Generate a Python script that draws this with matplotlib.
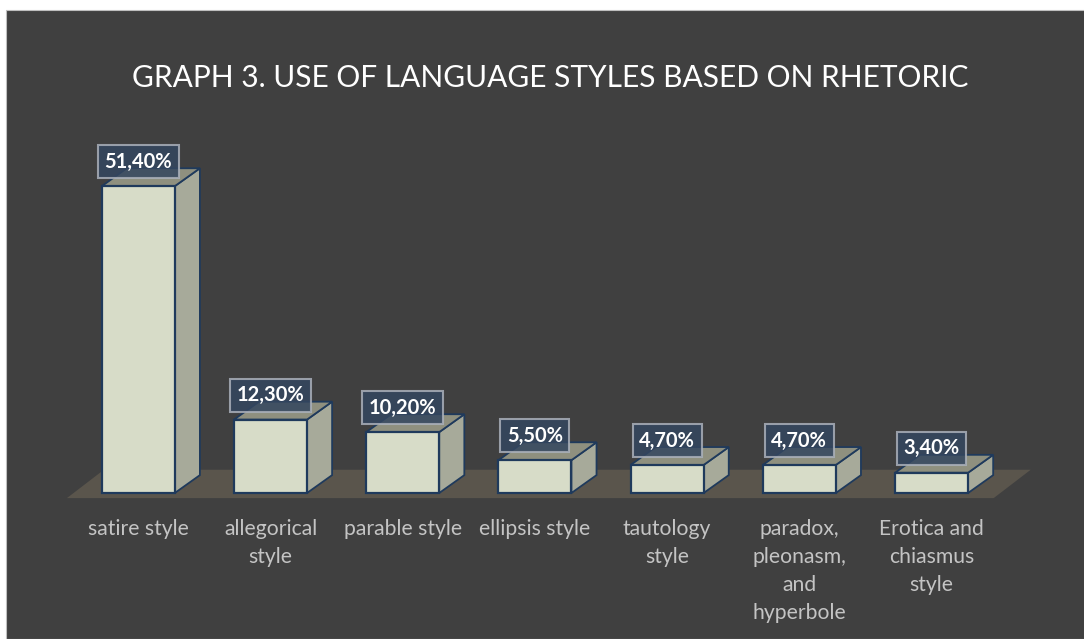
import numpy as np
import matplotlib
matplotlib.use("Agg")
import matplotlib.pyplot as plt
from matplotlib.patches import Polygon, Rectangle

categories = ["satire style", "allegorical\nstyle", "parable style", "ellipsis style",
              "tautology\nstyle", "paradox,\npleonasm,\nand\nhyperbole", "Erotica and\nchiasmus\nstyle"]
values = [51.4, 12.3, 10.2, 5.5, 4.7, 4.7, 3.4]
labels = ["51,40%", "12,30%", "10,20%", "5,50%", "4,70%", "4,70%", "3,40%"]
title = "GRAPH 3. USE OF LANGUAGE STYLES BASED ON RHETORIC"

bg = "#404040"
front = "#d7dcc8"
side = "#a7aa9a"
top = "#8f907f"
edge = "#1f3a5c"
floor_c = "#5a554c"

plt.rcParams['font.family'] = ['Lato', 'DejaVu Sans']

fig = plt.figure(figsize=(10.84, 6.39), dpi=100)
fig.patch.set_facecolor("white")
fig.patches.append(Rectangle((6 / 1084, 0), 1, 1 - 10 / 639, transform=fig.transFigure,
                             facecolor=bg, edgecolor="#bfbfbf", lw=0.8, zorder=-10))

ax = fig.add_axes([0, 0, 1, 1])
ax.set_facecolor("none")
ax.set_xlim(-1.046, 7.153)
ax.set_ylim(-24.45, 82.58)
ax.axis("off")

x = np.arange(len(values))
w = 0.552
dx = 0.19   # depth offset in x units
dy = 3.0    # depth offset in value units

# floor
fl = Polygon([(-0.54, -0.85), (6.47, -0.85), (6.75, 3.9), (-0.26, 3.9)],
             closed=True, facecolor=floor_c, edgecolor="none", zorder=1)
ax.add_patch(fl)

for i, v in enumerate(values):
    l, r = x[i] - w / 2, x[i] + w / 2
    ax.add_patch(Polygon([(r, 0), (r + dx, dy), (r + dx, v + dy), (r, v)],
                         facecolor=side, edgecolor=edge, lw=1.3, zorder=2))
    ax.add_patch(Polygon([(l, v), (r, v), (r + dx, v + dy), (l + dx, v + dy)],
                         facecolor=top, edgecolor=edge, lw=1.3, zorder=2))
ax.bar(x, values, width=w, color=front, edgecolor=edge, linewidth=1.6, zorder=3)

for i, v in enumerate(values):
    ax.text(x[i], v + 4.1, labels[i], ha="center", va="center", color="white",
            fontsize=14.5, fontweight="bold", zorder=5,
            bbox=dict(boxstyle="square,pad=0.32", facecolor="#34465f", alpha=0.85,
                      edgecolor="#aab0ba", linewidth=1.5))

for i, c in enumerate(categories):
    ax.text(x[i], -4.3, c, ha="center", va="top", color="#c4c4c4",
            fontsize=15.2, linespacing=1.5, zorder=4)

ax.text(0.508, 0.878, title, transform=fig.transFigure, ha="center", va="center",
        color="white", fontsize=21.5)

fig.savefig("out.png", dpi=100, facecolor=fig.get_facecolor())
